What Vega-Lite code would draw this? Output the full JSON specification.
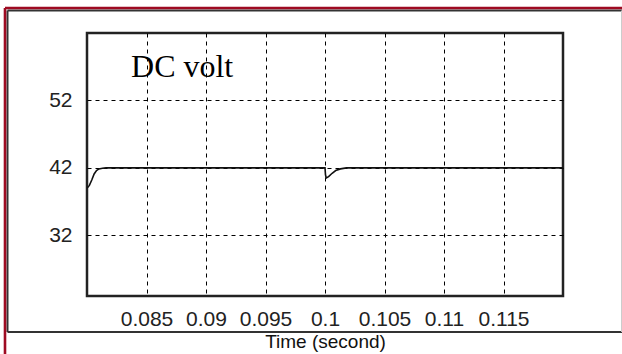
{
  "$schema": "https://vega.github.io/schema/vega-lite/v6.json",
  "width": 476,
  "height": 263,
  "autosize": {"type": "none"},
  "padding": {"left": 87, "top": 33, "right": 59, "bottom": 58},
  "background": "white",
  "config": {
    "view": {"stroke": "#222", "strokeWidth": 2.5},
    "axis": {
      "grid": true,
      "gridColor": "#000",
      "gridDash": [4, 4],
      "gridWidth": 1,
      "gridOpacity": 1,
      "domain": false,
      "ticks": false,
      "labelFont": "Liberation Sans",
      "labelFontSize": 21,
      "labelColor": "#222",
      "titleFont": "Liberation Sans",
      "titleFontSize": 19,
      "titleFontWeight": "normal",
      "titleColor": "#111"
    }
  },
  "layer": [
    {
      "data": {
        "values": [
          {"t": 0.08, "v": 39.0},
          {"t": 0.0802, "v": 39.4},
          {"t": 0.0804, "v": 40.2},
          {"t": 0.0806, "v": 41.1},
          {"t": 0.0808, "v": 41.6},
          {"t": 0.081, "v": 41.85},
          {"t": 0.0813, "v": 41.95},
          {"t": 0.0816, "v": 42.0},
          {"t": 0.1, "v": 42.0},
          {"t": 0.10004, "v": 41.0},
          {"t": 0.1001, "v": 40.5},
          {"t": 0.1003, "v": 40.7},
          {"t": 0.1006, "v": 41.2},
          {"t": 0.1009, "v": 41.6},
          {"t": 0.1013, "v": 41.85},
          {"t": 0.1018, "v": 42.0},
          {"t": 0.12, "v": 42.0}
        ]
      },
      "mark": {"type": "line", "color": "#111", "strokeWidth": 1.6, "clip": true},
      "encoding": {
        "x": {
          "field": "t",
          "type": "quantitative",
          "scale": {"domain": [0.08, 0.12], "nice": false, "zero": false},
          "axis": {
            "values": [0.085, 0.09, 0.095, 0.1, 0.105, 0.11, 0.115],
            "format": "~g",
            "labelPadding": 12,
            "title": "Time (second)",
            "titlePadding": 3
          }
        },
        "y": {
          "field": "v",
          "type": "quantitative",
          "scale": {"domain": [23, 62], "nice": false, "zero": false},
          "axis": {
            "values": [32, 42, 52],
            "labelPadding": 15,
            "title": null
          }
        }
      }
    },
    {
      "data": {"values": [{"t": 0.0837, "v": 55.48, "label": "DC volt"}]},
      "mark": {
        "type": "text",
        "font": "Liberation Serif",
        "fontSize": 32,
        "align": "left",
        "baseline": "alphabetic",
        "color": "#000"
      },
      "encoding": {
        "x": {"field": "t", "type": "quantitative", "scale": {"domain": [0.08, 0.12], "nice": false, "zero": false}},
        "y": {"field": "v", "type": "quantitative", "scale": {"domain": [23, 62], "nice": false, "zero": false}},
        "text": {"field": "label"}
      }
    },
    {
      "data": {
        "values": [
          {"t1": 0.073319, "t2": 0.1252, "v1": 65.336, "v2": 65.336},
          {"t1": 0.073319, "t2": 0.073319, "v1": 65.336, "v2": 17.662},
          {"t1": 0.073319, "t2": 0.1252, "v1": 17.662, "v2": 17.662}
        ]
      },
      "mark": {"type": "rule", "color": "#333", "strokeWidth": 2, "clip": false},
      "encoding": {
        "x": {"field": "t1", "type": "quantitative", "scale": {"domain": [0.08, 0.12], "nice": false, "zero": false}},
        "x2": {"field": "t2"},
        "y": {"field": "v1", "type": "quantitative", "scale": {"domain": [23, 62], "nice": false, "zero": false}},
        "y2": {"field": "v2"}
      }
    },
    {
      "data": {
        "values": [
          {"t1": 0.124916, "t2": 0.124916, "v1": 65.336, "v2": 17.662}
        ]
      },
      "mark": {"type": "rule", "color": "#ccc", "strokeWidth": 1, "clip": false},
      "encoding": {
        "x": {"field": "t1", "type": "quantitative", "scale": {"domain": [0.08, 0.12], "nice": false, "zero": false}},
        "x2": {"field": "t2"},
        "y": {"field": "v1", "type": "quantitative", "scale": {"domain": [23, 62], "nice": false, "zero": false}},
        "y2": {"field": "v2"}
      }
    },
    {
      "data": {
        "values": [
          {"t1": 0.073109, "t2": 0.1252, "v1": 65.707, "v2": 65.707},
          {"t1": 0.073109, "t2": 0.073109, "v1": 65.707, "v2": 14.0}
        ]
      },
      "mark": {"type": "rule", "color": "#9e0b22", "strokeWidth": 2.6, "clip": false},
      "encoding": {
        "x": {"field": "t1", "type": "quantitative", "scale": {"domain": [0.08, 0.12], "nice": false, "zero": false}},
        "x2": {"field": "t2"},
        "y": {"field": "v1", "type": "quantitative", "scale": {"domain": [23, 62], "nice": false, "zero": false}},
        "y2": {"field": "v2"}
      }
    }
  ]
}
